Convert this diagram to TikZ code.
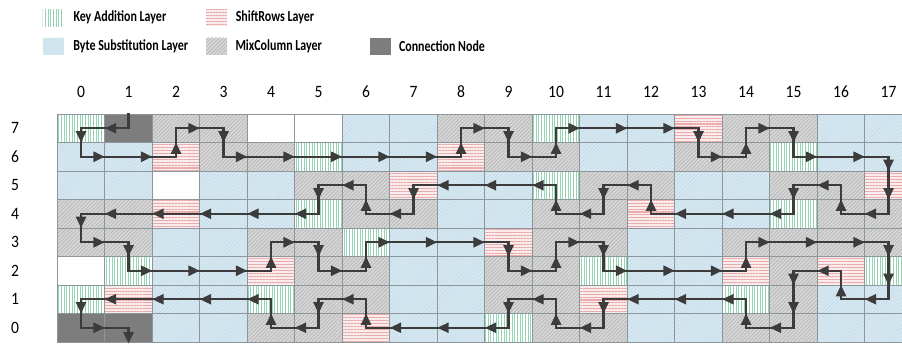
\documentclass[tikz,border=0pt]{standalone}
\usepackage{fontspec}
\setmainfont{Carlito}[FakeStretch=0.78]
\newfontfamily\numfont{Carlito}[FakeStretch=0.9]
\usetikzlibrary{arrows.meta,decorations.markings,patterns.meta,positioning}

\definecolor{keyline}{RGB}{150,210,180}
\definecolor{bytefill}{RGB}{214,232,242}
\definecolor{byteline}{RGB}{192,215,228}
\definecolor{shiftfill}{RGB}{250,236,236}
\definecolor{shiftline}{RGB}{232,170,170}
\definecolor{mixfill}{RGB}{214,214,214}
\definecolor{mixline}{RGB}{176,176,176}
\definecolor{connfill}{RGB}{125,125,125}
\definecolor{gridcol}{RGB}{140,150,155}
\definecolor{flowcol}{RGB}{60,60,60}

\tikzset{
  cellK/.style={preaction={fill=white},pattern={Lines[angle=90,distance=2pt,line width=0.6pt]},pattern color=keyline},
  cellB/.style={preaction={fill=bytefill},pattern={Lines[angle=45,distance=2pt,line width=0.3pt]},pattern color=byteline},
  cellS/.style={preaction={fill=shiftfill},pattern={Lines[angle=0,distance=2.2pt,line width=0.8pt]},pattern color=shiftline},
  cellM/.style={preaction={fill=mixfill},pattern={Lines[angle=45,distance=2pt,line width=0.4pt]},pattern color=mixline},
  cellC/.style={fill=connfill},
  cellW/.style={fill=white},
  gridcell/.style={draw=gridcol,line width=0.5pt},
  flow/.style={draw=flowcol,line width=1.8pt,line cap=rect},
  midarrow/.style={postaction={decorate},decoration={markings,mark=at position 0.5 with {\arrow{Triangle[length=8.5pt,width=7.5pt]}}}},
  swatch/.style={minimum width=15.75pt,minimum height=12.75pt,inner sep=0pt},
  legtext/.style={font=\bfseries\fontsize{11.5}{13}\selectfont,inner sep=0pt},
  axislabel/.style={font=\numfont\fontsize{13}{15}\selectfont,inner sep=0pt}
}

\begin{document}
\begin{tikzpicture}[x=0.75pt,y=-0.75pt]
  \path[use as bounding box] (0,0) rectangle (902,344);

  % legend
  \node[swatch,cellK] (leg-key) at (53,17.5) {};
  \node[legtext,right=7pt of leg-key] (leg-key-text) {Key Addition Layer};
  \node[swatch,cellS] (leg-shift) at (216.5,17.5) {};
  \node[legtext,right=6pt of leg-shift] (leg-shift-text) {ShiftRows Layer};
  \node[swatch,cellB] (leg-byte) at (53,46) {};
  \node[legtext,right=7pt of leg-byte] (leg-byte-text) {Byte Substitution Layer};
  \node[swatch,cellM] (leg-mix) at (216.5,46) {};
  \node[legtext,right=6pt of leg-mix] (leg-mix-text) {MixColumn Layer};
  \node[swatch,cellC] (leg-conn) at (380,46) {};
  \node[legtext,right=6pt of leg-conn] (leg-conn-text) {Connection Node};

  % column and row numbers
  \foreach \i in {0,...,17}
    \node[axislabel] (col\i) at ({81.05+47.5*\i},92) {\i};
  \foreach \r in {0,...,7}
    \node[axislabel] (row\r) at (15,{128.25+28.5*(7-\r)}) {\r};

  % cells
  \begin{scope}
    \clip (0,100) rectangle (902,344);
    \foreach \r/\cells in {
        7/{K,C,M,M,W,W,B,B,M,M,K,B,B,S,M,M,B,B},
        6/{B,B,S,M,M,K,B,B,S,M,M,B,B,M,M,K,B,B},
        5/{B,B,W,B,B,M,M,S,B,B,K,M,M,B,B,M,M,S},
        4/{M,M,S,B,B,K,M,M,B,B,M,M,S,B,B,K,M,M},
        3/{M,M,B,B,M,M,K,B,B,S,M,M,B,B,M,M,M,M},
        2/{W,K,B,B,S,M,M,B,B,M,M,K,B,B,S,M,S,K},
        1/{K,S,B,B,K,M,M,B,B,M,M,S,B,B,K,M,B,B},
        0/{C,C,B,B,M,M,S,B,B,K,M,M,B,B,M,M,B,B}} {
      \foreach \t [count=\i from 0] in \cells {
        \path[gridcell,cell\t] ({57.3+47.5*\i},{114+28.5*(7-\r)}) rectangle ++(47.5,28.5);
        \coordinate (c\i-\r) at ({81.05+47.5*\i},{128.25+28.5*(7-\r)});
      }
    }
  \end{scope}

  % path through the grid
  \coordinate (entry) at (128.55,114);
  \coordinate (exit) at (128.55,343.5);
  \draw[flow] (entry) -- (c1-7);
  \foreach \n [remember=\n as \p (initially 1-7)] in {0-7,0-6,1-6,2-6,2-7,3-7,3-6,4-6,5-6,6-6,7-6,8-6,8-7,9-7,9-6,10-6,10-7,11-7,12-7,13-7,13-6,14-6,14-7,15-7,15-6,16-6,17-6,17-5,17-4,16-4,16-5,15-5,15-4,14-4,13-4,12-4,12-5,11-5,11-4,10-4,10-5,9-5,8-5,7-5,7-4,6-4,6-5,5-5,5-4,4-4,3-4,2-4,1-4,0-4,0-3,1-3,1-2,2-2,3-2,4-2,4-3,5-3,5-2,6-2,6-3,7-3,8-3,9-3,9-2,10-2,10-3,11-3,11-2,12-2,13-2,14-2,14-3,15-3,16-3,17-3,17-2,17-1,16-1,16-2,15-2,15-1,15-0,14-0,14-1,13-1,12-1,11-1,11-0,10-0,10-1,9-1,9-0,8-0,7-0,6-0,6-1,5-1,5-0,4-0,4-1,3-1,2-1,1-1,0-1,0-0,1-0}
    \draw[flow,midarrow] (c\p) -- (c\n);
  \draw[flow,-{Triangle[length=8.5pt,width=7.5pt]}] (c1-0) -- (exit);
\end{tikzpicture}
\end{document}
